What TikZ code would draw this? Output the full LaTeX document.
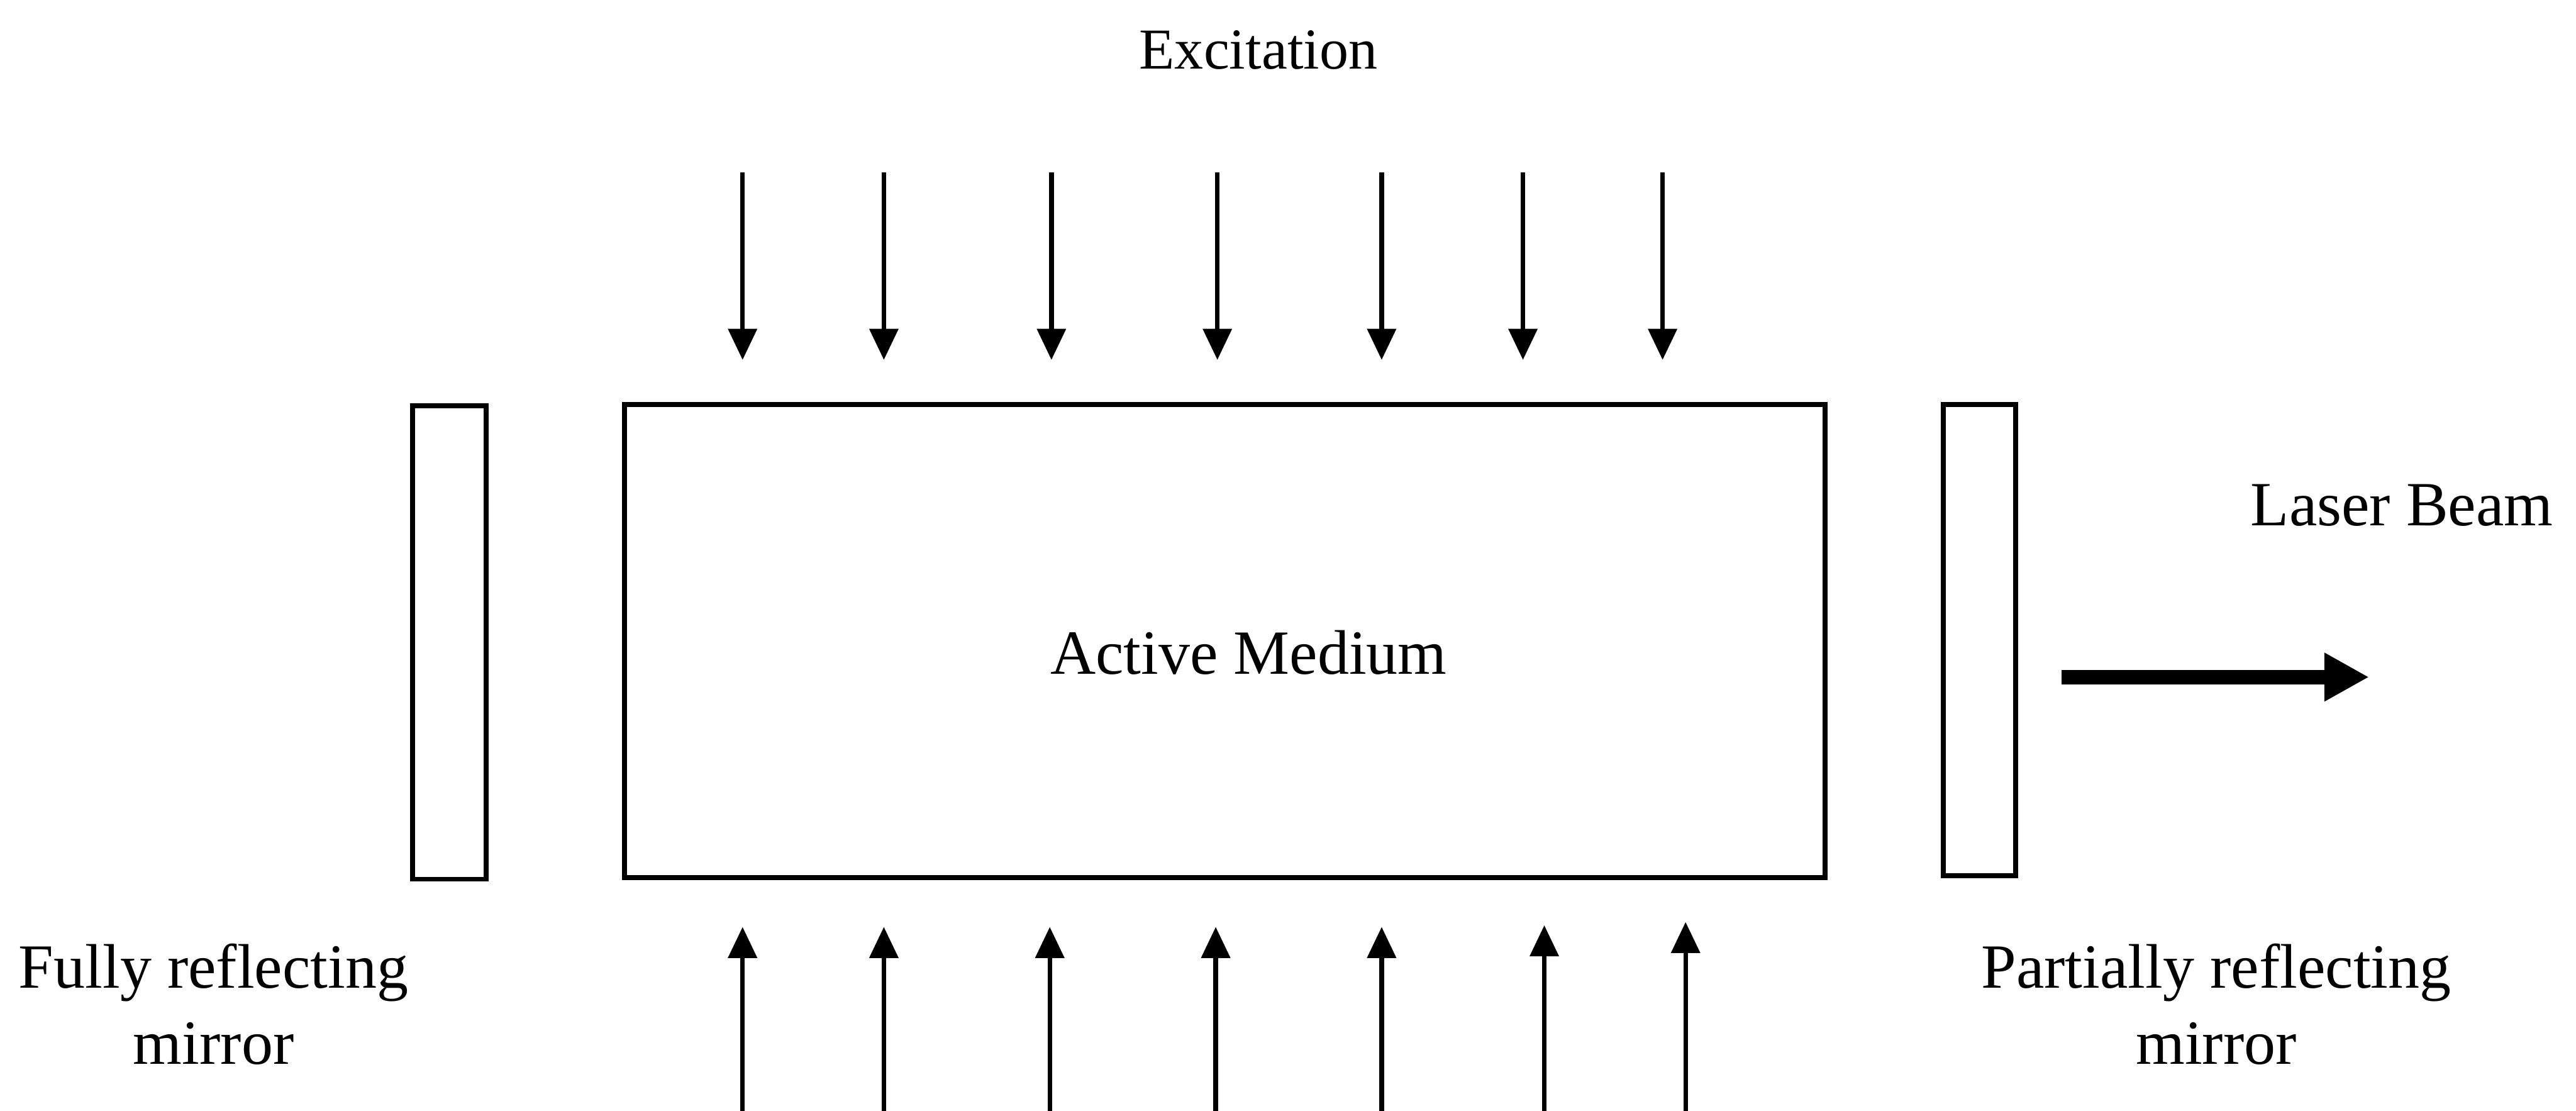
\documentclass[tikz,border=0pt]{standalone}
\usepackage{fontspec}
\setmainfont{Liberation Serif}
\usetikzlibrary{arrows.meta}
\begin{document}
\begin{tikzpicture}[x=0.03488cm,y=-0.03488cm,
  lbl/.style={font=\fontsize{38}{46}\selectfont, inner sep=0pt, align=center},
  frame/.style={draw, line width=3pt, inner sep=0pt},
  pump/.style={line width=2.8pt, -{Triangle[length=0.66cm,width=0.6cm]}},
  beam/.style={line width=0.31cm, -{Triangle[length=0.95cm,width=0.97cm]}}]
\useasboundingbox (0,0) rectangle (1568,676);

% active medium and mirrors
\node[frame, minimum width=25.497cm, minimum height=10.045cm] (medium) at (745.5,390) {};
\node[frame, minimum width=1.570cm, minimum height=10.045cm] (fullmirror) at (273.5,391) {};
\node[frame, minimum width=1.535cm, minimum height=10.010cm] (partmirror) at (1205,389.5) {};

% labels
\node[lbl, anchor=base] (mediumlbl) at (760,410) {Active Medium};
\node[lbl, font=\fontsize{35}{40}\selectfont, anchor=base] (excitation) at (766,42) {Excitation};
\node[lbl, anchor=base] (laserlbl) at (1462,320) {Laser Beam};
\node[lbl, anchor=north] (fulllbl) at (130,574) {Fully reflecting\\mirror};
\node[lbl, anchor=north] (partlbl) at (1349,574) {Partially reflecting\\mirror};

% excitation arrows from top
\foreach \i/\x in {1/452,2/538,3/640,4/741,5/841,6/927,7/1012}{
  \coordinate (ts\i) at (\x,105);
  \coordinate (te\i) at (\x,219);
  \draw[pump] (ts\i) -- (te\i);
}
% excitation arrows from bottom
\foreach \i/\x/\t in {1/452/564,2/538/564,3/639/564,4/740/564,5/841/564,6/940/563,7/1026/561}{
  \coordinate (bs\i) at (\x,676);
  \coordinate (be\i) at (\x,\t);
  \draw[pump] (bs\i) -- (be\i);
}

% laser beam
\coordinate (beamstart) at (1255,412);
\coordinate (beamend) at (1442,412);
\draw[beam] (beamstart) -- (beamend);
\end{tikzpicture}
\end{document}
